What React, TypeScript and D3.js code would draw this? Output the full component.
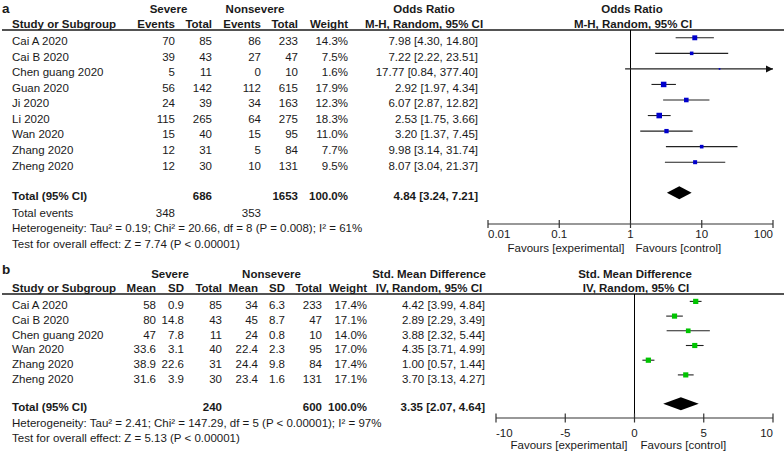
import React from 'react';
import * as d3 from 'd3';

// panel a: odds ratio, severe vs nonsevere
const studiesA = ['Cai A 2020', 'Cai B 2020', 'Chen guang 2020', 'Guan 2020', 'Ji 2020', 'Li 2020', 'Wan 2020', 'Zhang 2020', 'Zheng 2020'];
const sevEventsA = [70, 39, 5, 56, 24, 115, 15, 12, 12];
const sevTotalA = [85, 43, 11, 142, 39, 265, 40, 31, 30];
const nonEventsA = [86, 27, 0, 112, 34, 64, 15, 5, 10];
const nonTotalA = [233, 47, 10, 615, 163, 275, 95, 84, 131];
const weightA = [14.3, 7.5, 1.6, 17.9, 12.3, 18.3, 11.0, 7.7, 9.5];
const orA = [7.98, 7.22, 17.77, 2.92, 6.07, 2.53, 3.20, 9.98, 8.07];
const lowA = [4.30, 2.22, 0.84, 1.97, 2.87, 1.75, 1.37, 3.14, 3.04];
const highA = [14.80, 23.51, 377.40, 4.34, 12.82, 3.66, 7.45, 31.74, 21.37];
const pooledA = [4.84, 3.24, 7.21];
const totalsA = [686, 1653];
const eventsA = [348, 353];
const ticksA = [0.01, 0.1, 1, 10, 100];
const hetA = 'Heterogeneity: Tau² = 0.19; Chi² = 20.66, df = 8 (P = 0.008); I² = 61%';
const testA = 'Test for overall effect: Z = 7.74 (P < 0.00001)';

// panel b: std. mean difference
const studiesB = ['Cai A 2020', 'Cai B 2020', 'Chen guang 2020', 'Wan 2020', 'Zhang 2020', 'Zheng 2020'];
const sevMeanB = [58, 80, 47, 33.6, 38.9, 31.6];
const sevSdB = [0.9, 14.8, 7.8, 3.1, 22.6, 3.9];
const sevTotalB = [85, 43, 11, 40, 31, 30];
const nonMeanB = [34, 45, 24, 22.4, 24.4, 23.4];
const nonSdB = [6.3, 8.7, 0.8, 2.3, 9.8, 1.6];
const nonTotalB = [233, 47, 10, 95, 84, 131];
const weightB = [17.4, 17.1, 14.0, 17.0, 17.4, 17.1];
const smdB = [4.42, 2.89, 3.88, 4.35, 1.00, 3.70];
const lowB = [3.99, 2.29, 2.32, 3.71, 0.57, 3.13];
const highB = [4.84, 3.49, 5.44, 4.99, 1.44, 4.27];
const pooledB = [3.35, 2.07, 4.64];
const totalsB = [240, 600];
const ticksB = [-10, -5, 0, 5, 10];
const hetB = 'Heterogeneity: Tau² = 2.41; Chi² = 147.29, df = 5 (P < 0.00001); I² = 97%';
const testB = 'Test for overall effect: Z = 5.13 (P < 0.00001)';

const FONT = "'Liberation Sans', Arial, sans-serif";
const FS = 11.5;
const INK = '#1a1a1a';

function T({x, y, anchor = 'start', bold = false, size = FS, children}: any) {
  return (
    <text x={x} y={y} dy="0.36em" textAnchor={anchor} fontWeight={bold ? 700 : 400}
      fontSize={size} fill={INK}>{children}</text>
  );
}

const fmt = (v: number) => v.toFixed(2);
const ci = (m: number, l: number, h: number) => `${fmt(m)} [${fmt(l)}, ${fmt(h)}]`;
const pct = (w: number) => `${w.toFixed(1)}%`;

function PanelA() {
  const x = d3.scaleLog().domain([0.01, 100]).range([488, 773]);
  const y = d3.scaleLinear().domain([0, 1]).range([41, 56.55]);
  const lineY = 30, axisY = 224, totalY = 196;
  const off = -3.2;
  const size = (w: number) => 1.3 * Math.sqrt(w);
  const xMax = x.range()[1];
  const tickAnchor = (i: number) => (i === 0 ? 'start' : i === ticksA.length - 1 ? 'end' : 'middle');

  return (
    <g>
      <T x={2} y={8} bold size={13.5}>a</T>
      <T x={168.5} y={9} anchor="middle" bold>Severe</T>
      <T x={255} y={9} anchor="middle" bold>Nonsevere</T>
      <T x={424} y={9} anchor="middle" bold>Odds Ratio</T>
      <T x={632} y={9} anchor="middle" bold>Odds Ratio</T>

      <T x={12} y={23.5} bold>Study or Subgroup</T>
      <T x={175} y={23.5} anchor="end" bold>Events</T>
      <T x={212} y={23.5} anchor="end" bold>Total</T>
      <T x={261} y={23.5} anchor="end" bold>Events</T>
      <T x={298} y={23.5} anchor="end" bold>Total</T>
      <T x={348} y={23.5} anchor="end" bold>Weight</T>
      <T x={424} y={23.5} anchor="middle" bold>M-H, Random, 95% CI</T>
      <T x={633} y={23.5} anchor="middle" bold>M-H, Random, 95% CI</T>
      <line x1={2} x2={784} y1={lineY} y2={lineY} stroke={INK} strokeWidth={1.4} />

      {studiesA.map((s, i) => (
        <g key={s}>
          <T x={12} y={y(i)}>{s}</T>
          <T x={175} y={y(i)} anchor="end">{sevEventsA[i]}</T>
          <T x={212} y={y(i)} anchor="end">{sevTotalA[i]}</T>
          <T x={261} y={y(i)} anchor="end">{nonEventsA[i]}</T>
          <T x={298} y={y(i)} anchor="end">{nonTotalA[i]}</T>
          <T x={348} y={y(i)} anchor="end">{pct(weightA[i])}</T>
          <T x={478} y={y(i)} anchor="end">{ci(orA[i], lowA[i], highA[i])}</T>
        </g>
      ))}

      <T x={12} y={totalY} bold>Total (95% CI)</T>
      <T x={212} y={totalY} anchor="end" bold>{totalsA[0]}</T>
      <T x={298} y={totalY} anchor="end" bold>{totalsA[1]}</T>
      <T x={348} y={totalY} anchor="end" bold>100.0%</T>
      <T x={478} y={totalY} anchor="end" bold>{ci(pooledA[0], pooledA[1], pooledA[2])}</T>
      <T x={12} y={212.5}>Total events</T>
      <T x={175} y={212.5} anchor="end">{eventsA[0]}</T>
      <T x={261} y={212.5} anchor="end">{eventsA[1]}</T>
      <T x={12} y={228}>{hetA}</T>
      <T x={12} y={244}>{testA}</T>

      <line x1={x(1)} x2={x(1)} y1={lineY} y2={axisY} stroke="#000" strokeWidth={1} />
      {studiesA.map((s, i) => {
        const cy = y(i) + off;
        const hi = Math.min(highA[i], 100);
        const w = size(weightA[i]);
        return (
          <g key={s}>
            <line x1={x(lowA[i])} x2={x(hi)} y1={cy} y2={cy} stroke="#222" strokeWidth={1.1} />
            {highA[i] > 100 && (
              <path d={`M${xMax},${cy} l-7,-3.5 l0,7 z`} fill="#111" />
            )}
            <rect x={x(orA[i]) - w / 2} y={cy - w / 2} width={w} height={w} fill="#0000cc" />
          </g>
        );
      })}
      <path
        d={`M${x(pooledA[1])},${totalY + off} L${x(pooledA[0])},${totalY + off - 6.5} L${x(pooledA[2])},${totalY + off} L${x(pooledA[0])},${totalY + off + 6.5} Z`}
        fill="#000" />

      <line x1={x(0.01)} x2={x(100)} y1={axisY} y2={axisY} stroke="#333" strokeWidth={1.2} />
      {ticksA.map((t, i) => (
        <g key={t}>
          <line x1={x(t)} x2={x(t)} y1={axisY - 4} y2={axisY + 4} stroke="#333" strokeWidth={1.2} />
          <T x={x(t)} y={234} anchor={tickAnchor(i)}>{String(t)}</T>
        </g>
      ))}
      <T x={x(1) - 6} y={248} anchor="end">Favours [experimental]</T>
      <T x={x(1) + 5} y={248}>Favours [control]</T>
    </g>
  );
}

function PanelB() {
  const x = d3.scaleLinear().domain([-10, 10]).range([496, 773]);
  const y = d3.scaleLinear().domain([0, 1]).range([305, 319.7]);
  const lineY = 294, axisY = 418, totalY = 407.3;
  const off = -3.6;
  const size = (w: number) => 1.25 * Math.sqrt(w);
  const tickAnchor = (i: number) => (i === 0 ? 'start' : i === ticksB.length - 1 ? 'end' : 'middle');

  return (
    <g>
      <T x={2} y={269} bold size={13.5}>b</T>
      <T x={170} y={274} anchor="middle" bold>Severe</T>
      <T x={271.5} y={274} anchor="middle" bold>Nonsevere</T>
      <T x={429} y={274} anchor="middle" bold>Std. Mean Difference</T>
      <T x={635} y={274} anchor="middle" bold>Std. Mean Difference</T>

      <T x={12} y={288} bold>Study or Subgroup</T>
      <T x={156} y={288} anchor="end" bold>Mean</T>
      <T x={184} y={288} anchor="end" bold>SD</T>
      <T x={222} y={288} anchor="end" bold>Total</T>
      <T x={258} y={288} anchor="end" bold>Mean</T>
      <T x={285} y={288} anchor="end" bold>SD</T>
      <T x={322} y={288} anchor="end" bold>Total</T>
      <T x={367} y={288} anchor="end" bold>Weight</T>
      <T x={429} y={288} anchor="middle" bold>IV, Random, 95% CI</T>
      <T x={636} y={288} anchor="middle" bold>IV, Random, 95% CI</T>
      <line x1={2} x2={784} y1={lineY} y2={lineY} stroke={INK} strokeWidth={1.4} />

      {studiesB.map((s, i) => (
        <g key={s}>
          <T x={12} y={y(i)}>{s}</T>
          <T x={156} y={y(i)} anchor="end">{String(sevMeanB[i])}</T>
          <T x={184} y={y(i)} anchor="end">{String(sevSdB[i])}</T>
          <T x={222} y={y(i)} anchor="end">{sevTotalB[i]}</T>
          <T x={258} y={y(i)} anchor="end">{String(nonMeanB[i])}</T>
          <T x={285} y={y(i)} anchor="end">{String(nonSdB[i])}</T>
          <T x={322} y={y(i)} anchor="end">{nonTotalB[i]}</T>
          <T x={367} y={y(i)} anchor="end">{pct(weightB[i])}</T>
          <T x={485} y={y(i)} anchor="end">{ci(smdB[i], lowB[i], highB[i])}</T>
        </g>
      ))}

      <T x={12} y={totalY} bold>Total (95% CI)</T>
      <T x={222} y={totalY} anchor="end" bold>{totalsB[0]}</T>
      <T x={322} y={totalY} anchor="end" bold>{totalsB[1]}</T>
      <T x={367} y={totalY} anchor="end" bold>100.0%</T>
      <T x={485} y={totalY} anchor="end" bold>{ci(pooledB[0], pooledB[1], pooledB[2])}</T>
      <T x={12} y={423}>{hetB}</T>
      <T x={12} y={438}>{testB}</T>

      <line x1={x(0)} x2={x(0)} y1={lineY} y2={axisY} stroke="#000" strokeWidth={1} />
      {studiesB.map((s, i) => {
        const cy = y(i) + off;
        const w = size(weightB[i]);
        return (
          <g key={s}>
            <line x1={x(lowB[i])} x2={x(highB[i])} y1={cy} y2={cy} stroke="#222" strokeWidth={1.1} />
            <rect x={x(smdB[i]) - w / 2} y={cy - w / 2} width={w} height={w} fill="#00c400" />
          </g>
        );
      })}
      <path
        d={`M${x(pooledB[1])},${totalY + off} L${x(pooledB[0])},${totalY + off - 6.5} L${x(pooledB[2])},${totalY + off} L${x(pooledB[0])},${totalY + off + 6.5} Z`}
        fill="#000" />

      <line x1={x(-10)} x2={x(10)} y1={axisY} y2={axisY} stroke="#333" strokeWidth={1.2} />
      {ticksB.map((t, i) => (
        <g key={t}>
          <line x1={x(t)} x2={x(t)} y1={axisY - 4.5} y2={axisY + 4.5} stroke="#333" strokeWidth={1.2} />
          <T x={x(t)} y={432.5} anchor={tickAnchor(i)}>{String(t)}</T>
        </g>
      ))}
      <T x={x(0) - 7} y={444.5} anchor="end">Favours [experimental]</T>
      <T x={x(0) + 6} y={444.5}>Favours [control]</T>
    </g>
  );
}

export default function App() {
  return (
    <svg width={784} height={451} viewBox="0 0 784 451"
      style={{position: 'absolute', left: 0, top: 0, background: '#fff', fontFamily: FONT}}>
      <rect width={784} height={451} fill="#fff" />
      <PanelA />
      <PanelB />
    </svg>
  );
}
